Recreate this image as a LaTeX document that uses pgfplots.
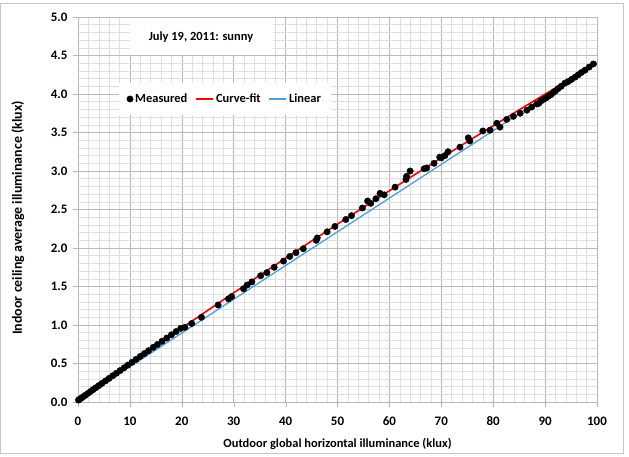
\documentclass[border=0pt]{standalone}
\usepackage{fontspec}
\setmainfont{Carlito}
\usepackage{pgfplots}
\pgfplotsset{compat=1.18}
\definecolor{fitred}{RGB}{255,0,0}
\definecolor{linblue}{RGB}{80,158,222}
\begin{document}
\begin{tikzpicture}
\path[use as bounding box] (-78bp,-55bp) rectangle (551bp,402bp);
\draw[gray!45, line width=1bp] (-77bp,-51bp) rectangle (545bp,398bp);
\begin{axis}[
  scale only axis, width=519bp, height=385bp,
  xmin=0, xmax=100, ymin=0, ymax=5,
  xtick={0,10,...,100}, ytick={0,0.5,...,5},
  minor tick num=4,
  grid=both,
  major grid style={gray!55, line width=0.6bp},
  minor grid style={gray!25, line width=0.5bp},
  axis line style={gray!55},
  major tick style={gray!55}, minor tick style={draw=none},
  tick align=outside, major tick length=5bp,
  axis x line*=bottom, axis y line*=left,
  /pgf/number format/assume math mode=true,
  ticklabel style={font=\fontsize{13}{15}\selectfont\bfseries},
  xticklabel style={yshift=-6bp},
  yticklabel style={xshift=-2bp, /pgf/number format/.cd, fixed, fixed zerofill, precision=1},
  xlabel={Outdoor global horizontal illuminance (klux)},
  ylabel={Indoor ceiling average illuminance (klux)},
  every axis x label/.style={at={(rel axis cs:0.5,0)}, yshift=-42bp, anchor=center,
     font=\fontsize{12.5}{14}\selectfont\bfseries},
  every axis y label/.style={at={(rel axis cs:0,0.478)}, xshift=-60bp, rotate=90, anchor=center,
     font=\fontsize{14}{16}\selectfont\bfseries},
  legend columns=3,
  legend style={at={(rel axis cs:0.283,0.787)}, anchor=center, draw=none, fill=white,
    font=\fontsize{12.5}{14}\selectfont\bfseries, inner xsep=8bp, inner ysep=9bp,
    /tikz/every even column/.append style={column sep=6bp}},
  legend cell align=left,
  clip=false,
]
\addplot[only marks, mark=*, mark size=3.2bp, black] coordinates {
(0.1,0.025) (0.3,0.034) (0.6,0.049) (1.0,0.068) (1.4,0.087) (1.9,0.111) (2.4,0.136)
(2.9,0.160) (3.4,0.184) (4.0,0.212) (4.6,0.241) (5.3,0.274) (6.0,0.307) (6.7,0.341)
(7.4,0.374) (8.1,0.408) (8.9,0.445) (9.6,0.479) (10.4,0.516) (11.2,0.554) (12.0,0.592)
(12.8,0.630) (13.6,0.667) (14.5,0.710) (15.3,0.747) (16.2,0.789) (17.1,0.831) (18.0,0.873)
(18.9,0.915) (19.8,0.957)
(20.6,0.97) (21.9,1.02) (23.8,1.10) (27.0,1.26) (29.0,1.34) (29.6,1.37) (31.9,1.47)
(32.6,1.52) (33.5,1.56) (35.2,1.64) (36.4,1.68) (37.8,1.75) (39.6,1.83) (40.8,1.89)
(42.0,1.94) (43.4,1.99) (45.9,2.10) (46.1,2.13) (48.0,2.21) (49.5,2.28) (51.6,2.37)
(52.7,2.42) (54.8,2.52) (55.8,2.61) (56.4,2.58) (57.4,2.64) (58.2,2.71) (59.0,2.69)
(61.1,2.79) (63.2,2.89) (63.3,2.93) (64.0,3.00) (66.7,3.03) (67.2,3.04) (68.6,3.10)
(69.7,3.18) (70.0,3.17) (70.7,3.20) (71.3,3.25) (73.6,3.31) (75.2,3.43) (75.5,3.39)
(78.0,3.52) (79.4,3.53) (80.7,3.62) (81.3,3.57) (82.6,3.67) (83.9,3.71) (85.2,3.75)
(86.5,3.79) (87.4,3.83) (88.4,3.87) (88.8,3.88) (89.2,3.91) (89.7,3.93) (90.2,3.95)
(90.6,3.97) (91.1,3.99) (91.6,4.02) (92.0,4.04) (92.5,4.07) (93.1,4.10) (93.8,4.14)
(94.4,4.16) (95.1,4.19) (95.8,4.22) (96.4,4.25) (97.0,4.28) (97.7,4.31) (98.5,4.35)
(99.3,4.39)
};
\addlegendentry{Measured}
\addplot[fitred, line width=1.6bp] coordinates {
(0,0.020) (5,0.258) (10,0.494) (15,0.728) (20,0.960) (25,1.190) (30,1.418) (35,1.644)
(40,1.868) (45,2.090) (50,2.310) (55,2.528) (60,2.744) (65,2.958) (70,3.170) (75,3.380)
(80,3.588) (85,3.794) (90,3.998) (95,4.200) (100,4.400)
};
\addlegendentry{Curve-fit}
\addplot[linblue, line width=1.3bp] coordinates {(0,0.02) (100,4.40)};
\addlegendentry{Linear}
\node[fill=white, minimum width=143bp, minimum height=37bp, inner sep=0pt,
  font=\fontsize{12.5}{14}\selectfont\bfseries] at (rel axis cs:0.237,0.949) {July 19, 2011: sunny};
\end{axis}
\end{tikzpicture}
\end{document}
